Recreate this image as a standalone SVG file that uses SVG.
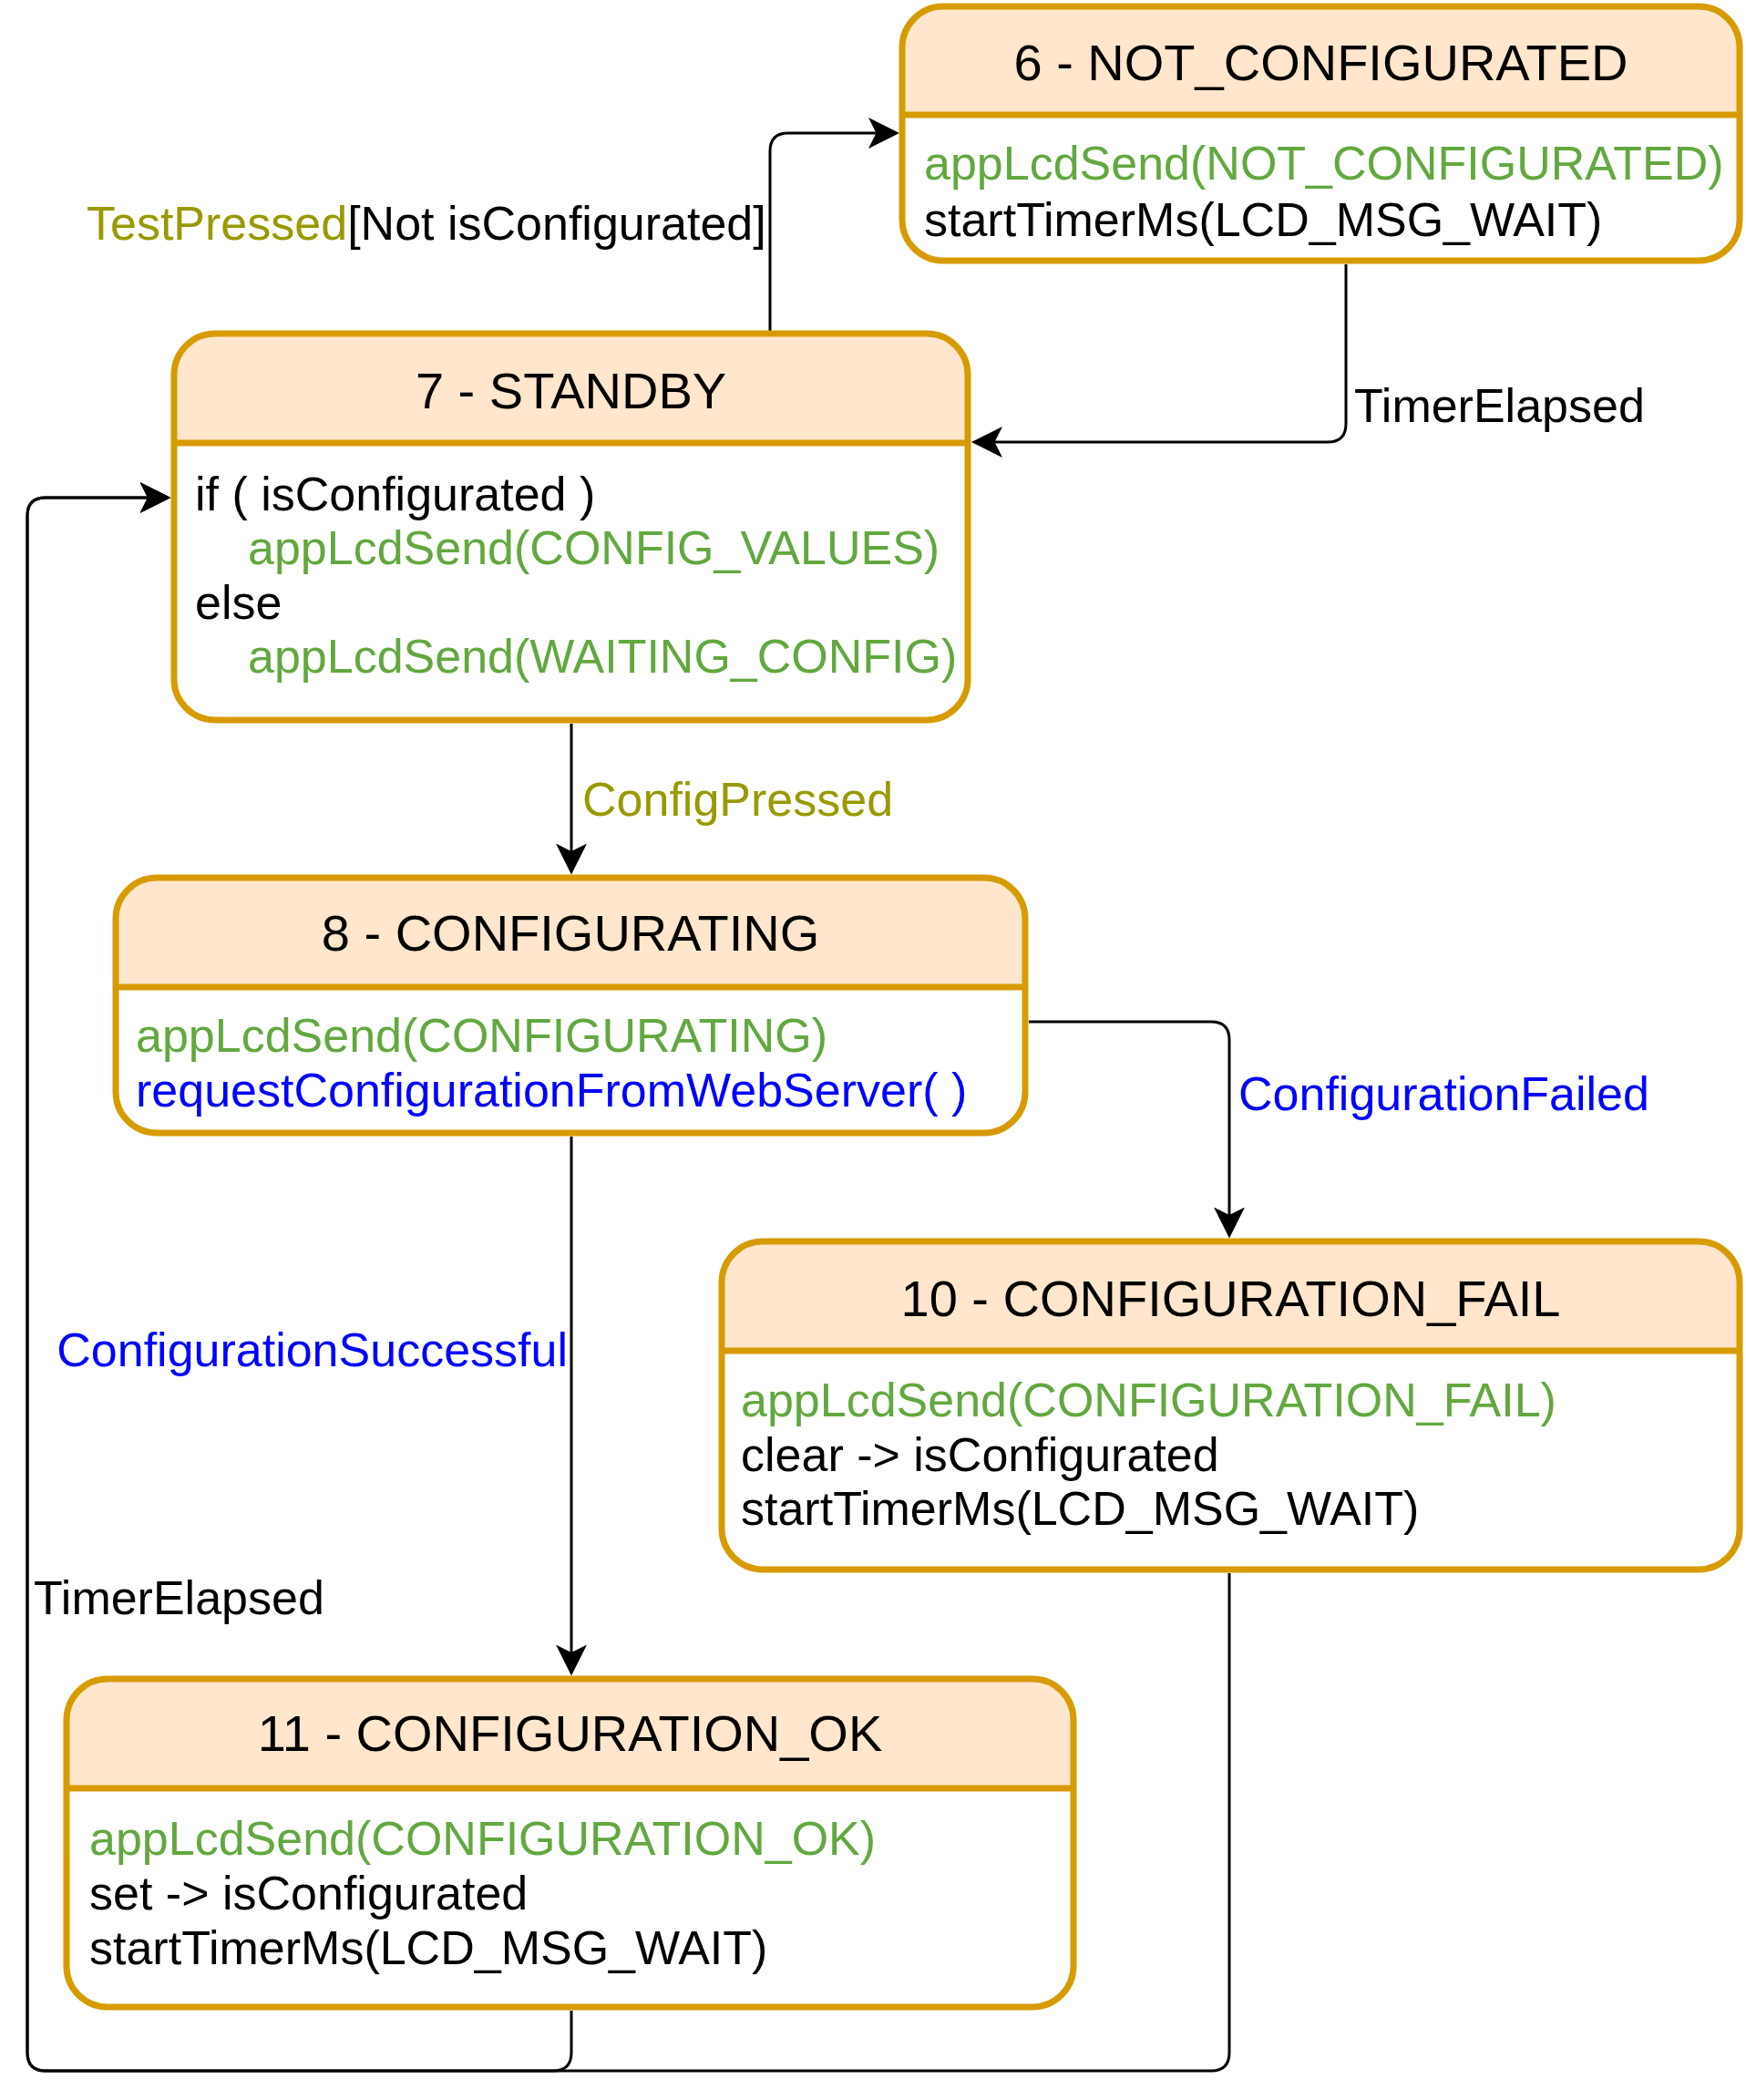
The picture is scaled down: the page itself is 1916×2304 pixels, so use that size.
<svg xmlns="http://www.w3.org/2000/svg" width="1916" height="2304" viewBox="0 0 1916 2304">
<style>
text{font-family:"Liberation Sans",Arial,sans-serif;font-size:52px;fill:#000}
.t{text-anchor:middle;font-size:56px}
.g{fill:#62a83f}
.b{fill:#0000ff}
.o{fill:#999900}
.box{fill:#fff;stroke:none}
.hd{fill:#ffe6cc;stroke:none}
.ol{fill:none;stroke:#d79b00;stroke-width:7}
.edge{fill:none;stroke:#000;stroke-width:3}
</style>
<defs>
<marker id="arr" viewBox="0 0 34 34" refX="24" refY="17" markerWidth="34" markerHeight="34" markerUnits="userSpaceOnUse" orient="auto">
<path d="M34,17 L0,0 L8.5,17 L0,34 Z" fill="#000"/>
</marker>
</defs>
<rect width="1916" height="2304" fill="#fff"/>
<g id="connectors">
<path class="edge" d="M845,363 L845,166 Q845,146 865,146 L977,146" marker-end="url(#arr)"/>
<path class="edge" d="M1477,290 L1477,465 Q1477,485 1457,485 L1076,485" marker-end="url(#arr)"/>
<path class="edge" d="M627,794 L627,949.5" marker-end="url(#arr)"/>
<path class="edge" d="M1129,1121 L1329,1121 Q1349,1121 1349,1141 L1349,1348.5" marker-end="url(#arr)"/>
<path class="edge" d="M627,1247 L627,1828.5" marker-end="url(#arr)"/>
<path class="edge" d="M1349,1726 L1349,2252 Q1349,2272 1329,2272 L50,2272 Q30,2272 30,2252 L30,566 Q30,546 50,546 L177.5,546" marker-end="url(#arr)"/>
<path class="edge" d="M627,2206 L627,2252 Q627,2272 607,2272 L50,2272 Q30,2272 30,2252 L30,566 Q30,546 50,546 L177.5,546" marker-end="url(#arr)"/>
<text x="95" y="263"><tspan class="o">TestPressed</tspan>[Not isConfigurated]</text>
<text x="1486" y="463">TimerElapsed</text>
<text x="639" y="895" class="o">ConfigPressed</text>
<text x="1359" y="1218" class="b">ConfigurationFailed</text>
<text x="623" y="1499" class="b" text-anchor="end">ConfigurationSuccessful</text>
<text x="37" y="1771">TimerElapsed</text>
</g>
<g id="node6">
<rect class="box" x="990" y="7" width="919" height="279" rx="45"/>
<path class="hd" d="M990,126 L990,52 A45,45 0 0 1 1035,7 L1864,7 A45,45 0 0 1 1909,52 L1909,126 Z"/>
<line x1="990" y1="126" x2="1909" y2="126" stroke="#d79b00" stroke-width="7"/>
<rect class="ol" x="990" y="7" width="919" height="279" rx="45"/>
<text class="t" x="1449.5" y="88">6 - NOT_CONFIGURATED</text>
<text class="g" x="1014" y="197">appLcdSend(NOT_CONFIGURATED)</text>
<text x="1014" y="259">startTimerMs(LCD_MSG_WAIT)</text>
</g>
<g id="node7">
<rect class="box" x="191" y="366" width="871" height="424" rx="45"/>
<path class="hd" d="M191,486 L191,411 A45,45 0 0 1 236,366 L1017,366 A45,45 0 0 1 1062,411 L1062,486 Z"/>
<line x1="191" y1="486" x2="1062" y2="486" stroke="#d79b00" stroke-width="7"/>
<rect class="ol" x="191" y="366" width="871" height="424" rx="45"/>
<text class="t" x="626.5" y="448">7 - STANDBY</text>
<text x="214" y="560">if ( isConfigurated )</text>
<text class="g" x="272" y="619">appLcdSend(CONFIG_VALUES)</text>
<text x="214" y="679">else</text>
<text class="g" x="272" y="738">appLcdSend(WAITING_CONFIG)</text>
</g>
<g id="node8">
<rect class="box" x="127" y="963" width="998" height="280" rx="45"/>
<path class="hd" d="M127,1083 L127,1008 A45,45 0 0 1 172,963 L1080,963 A45,45 0 0 1 1125,1008 L1125,1083 Z"/>
<line x1="127" y1="1083" x2="1125" y2="1083" stroke="#d79b00" stroke-width="7"/>
<rect class="ol" x="127" y="963" width="998" height="280" rx="45"/>
<text class="t" x="626" y="1043">8 - CONFIGURATING</text>
<text class="g" x="149" y="1154">appLcdSend(CONFIGURATING)</text>
<text class="b" x="149" y="1214">requestConfigurationFromWebServer( )</text>
</g>
<g id="node10">
<rect class="box" x="792" y="1362" width="1117" height="360" rx="45"/>
<path class="hd" d="M792,1482 L792,1407 A45,45 0 0 1 837,1362 L1864,1362 A45,45 0 0 1 1909,1407 L1909,1482 Z"/>
<line x1="792" y1="1482" x2="1909" y2="1482" stroke="#d79b00" stroke-width="7"/>
<rect class="ol" x="792" y="1362" width="1117" height="360" rx="45"/>
<text class="t" x="1350.5" y="1444">10 - CONFIGURATION_FAIL</text>
<text class="g" x="813" y="1554">appLcdSend(CONFIGURATION_FAIL)</text>
<text x="813" y="1614">clear -&gt; isConfigurated</text>
<text x="813" y="1673">startTimerMs(LCD_MSG_WAIT)</text>
</g>
<g id="node11">
<rect class="box" x="73" y="1842" width="1105" height="360" rx="45"/>
<path class="hd" d="M73,1962 L73,1887 A45,45 0 0 1 118,1842 L1133,1842 A45,45 0 0 1 1178,1887 L1178,1962 Z"/>
<line x1="73" y1="1962" x2="1178" y2="1962" stroke="#d79b00" stroke-width="7"/>
<rect class="ol" x="73" y="1842" width="1105" height="360" rx="45"/>
<text class="t" x="625.5" y="1921">11 - CONFIGURATION_OK</text>
<text class="g" x="98" y="2035">appLcdSend(CONFIGURATION_OK)</text>
<text x="98" y="2095">set -&gt; isConfigurated</text>
<text x="98" y="2155">startTimerMs(LCD_MSG_WAIT)</text>
</g>
</svg>
